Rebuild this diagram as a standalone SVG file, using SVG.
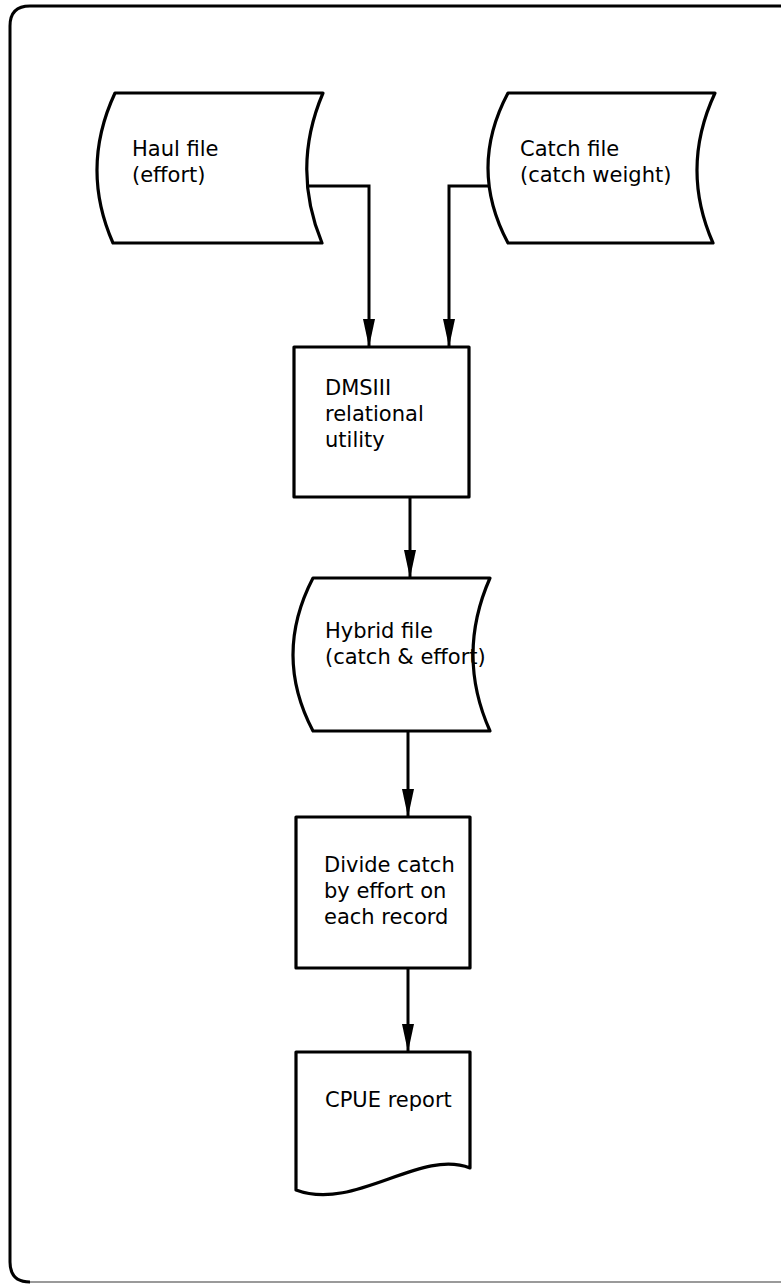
<svg xmlns="http://www.w3.org/2000/svg" width="781" height="1284" viewBox="0 0 781 1284">
  <style>
    .shape { fill: #fff; stroke: #000; stroke-width: 3.2; stroke-linejoin: round; }
    .label { font-family: "DejaVu Sans", "Liberation Sans", sans-serif; font-size: 21px; fill: #000; }
    .conn { fill: none; stroke: #000; stroke-width: 3; }
  </style>
  <defs>
    <marker id="head" markerUnits="userSpaceOnUse" markerWidth="28" markerHeight="12" viewBox="0 0 28 12" refX="27" refY="6" orient="auto">
      <path d="M0,0 L28,6 L0,12 Z" fill="#000"/>
    </marker>
  </defs>

  <rect width="781" height="1284" fill="#fff"/>

  <!-- outer frame: rounded on the left, bottom edge faint -->
  <path d="M781,6 H30 Q10,6 10,26 V1262 Q10,1282 30,1282" fill="none" stroke="#000" stroke-width="3"/>
  <path d="M30,1282 H781" fill="none" stroke="#9a9a9a" stroke-width="2"/>

  <!-- connectors -->
  <g id="connectors">
    <path class="conn" d="M308,186 H369 V346" marker-end="url(#head)"/>
    <path class="conn" d="M489,186 H449 V346" marker-end="url(#head)"/>
    <path class="conn" d="M410,497 V577" marker-end="url(#head)"/>
    <path class="conn" d="M408,731 V816" marker-end="url(#head)"/>
    <path class="conn" d="M408,968 V1051" marker-end="url(#head)"/>
  </g>

  <g id="haul-file">
    <path class="shape" d="M115,93 L323,93 Q291,168 322,243 L113,243 Q80,168 115,93 Z"/>
    <text class="label" x="132" y="156">Haul file</text>
    <text class="label" x="132" y="182">(effort)</text>
  </g>

  <g id="catch-file">
    <path class="shape" d="M508,93 L715,93 Q680,168 713,243 L508,243 Q468,168 508,93 Z"/>
    <text class="label" x="520" y="156">Catch file</text>
    <text class="label" x="520" y="182">(catch weight)</text>
  </g>

  <g id="dmsiii">
    <rect class="shape" x="294" y="347" width="175" height="150"/>
    <text class="label" x="325" y="395">DMSIII</text>
    <text class="label" x="325" y="421">relational</text>
    <text class="label" x="325" y="447">utility</text>
  </g>

  <g id="hybrid-file">
    <path class="shape" d="M313,578 L490,578 Q456,655 490,731 L313,731 Q273,655 313,578 Z"/>
    <text class="label" x="325" y="638">Hybrid file</text>
    <text class="label" x="325" y="664">(catch &amp; effort)</text>
  </g>

  <g id="divide">
    <rect class="shape" x="296" y="817" width="174" height="151"/>
    <text class="label" x="324" y="872">Divide catch</text>
    <text class="label" x="324" y="898">by effort on</text>
    <text class="label" x="324" y="924">each record</text>
  </g>

  <g id="cpue-report">
    <path class="shape" d="M296,1052 H470 V1168 C420,1148 355,1212 296,1190 Z"/>
    <text class="label" x="325" y="1107">CPUE report</text>
  </g>
</svg>
